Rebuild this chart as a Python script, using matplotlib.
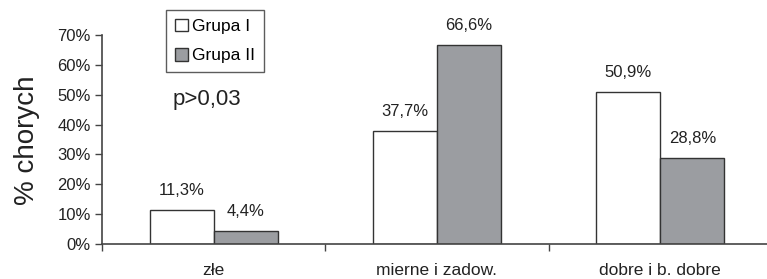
import numpy as np
import matplotlib.pyplot as plt
from matplotlib.ticker import FixedLocator, NullFormatter

plt.rcParams['font.family'] = ['Liberation Sans', 'DejaVu Sans']

categories = ['złe', 'mierne i zadow.', 'dobre i b. dobre']
grupa1 = [11.3, 37.7, 50.9]
grupa2 = [4.4, 66.6, 28.8]
series_names = ['Grupa I', 'Grupa II']

W, H = 767, 279
fig = plt.figure(figsize=(W / 100, H / 100), dpi=100)
# axes placed in pixel coords: x 102..772, y 35(70%)..244(0%)
ax = fig.add_axes([102 / W, (H - 244) / H, 670 / W, 209 / H])

x = np.arange(len(categories)) + 0.5
bw = 0.287
edge = '#333333'
txt = '#222222'
b1 = ax.bar(x - bw / 2, grupa1, bw, color='white', edgecolor=edge, linewidth=1.0)
b2 = ax.bar(x + bw / 2, grupa2, bw, color='#9b9da1', edgecolor=edge, linewidth=1.0)

for bars, vals in ((b1, grupa1), (b2, grupa2)):
    for r, v in zip(bars, vals):
        ax.text(r.get_x() + r.get_width() / 2, v + 6.6, f'{v:.1f}%'.replace('.', ','),
                ha='center', va='center', fontsize=12, color=txt)

ax.set_xlim(0, 3)
ax.set_ylim(0, 70)
ax.set_yticks(np.arange(0, 71, 10))
ax.set_yticklabels([f'{t}%' for t in range(0, 71, 10)], fontsize=12, color=txt)
ax.xaxis.set_major_locator(FixedLocator([0, 1, 2, 3]))
ax.xaxis.set_major_formatter(NullFormatter())
ax.xaxis.set_minor_locator(FixedLocator(x))
ax.set_xticklabels(categories, minor=True, fontsize=12.5, color=txt)
ax.tick_params(axis='x', which='minor', length=0, pad=14)
ax.tick_params(axis='x', which='major', direction='out', length=5, color='#444444', width=1)
ax.tick_params(axis='y', direction='out', length=5, color='#444444', width=1, pad=3)
for s in ('top', 'right'):
    ax.spines[s].set_visible(False)
for s in ('left', 'bottom'):
    ax.spines[s].set_color('#444444')
    ax.spines[s].set_linewidth(1.2)
ax.spines['bottom'].set_zorder(5)

fig.text(27 / W, 1 - 140 / H, '% chorych', rotation=90, ha='center', va='center',
         fontsize=20, color=txt)
ax.text(0.47, 48.5, 'p>0,03', ha='center', va='center', fontsize=16, color=txt)

leg = fig.legend([b1, b2], series_names, loc='upper left',
                 bbox_to_anchor=(166 / W, 1 - 10 / H), frameon=True, fancybox=False,
                 edgecolor='#333333', fontsize=12.5, handlelength=0.75, handleheight=0.75,
                 handletextpad=0.25, borderpad=0.5, labelspacing=0.8, borderaxespad=0)
leg.get_frame().set_linewidth(1.0)

fig.savefig('out.png', dpi=100)
